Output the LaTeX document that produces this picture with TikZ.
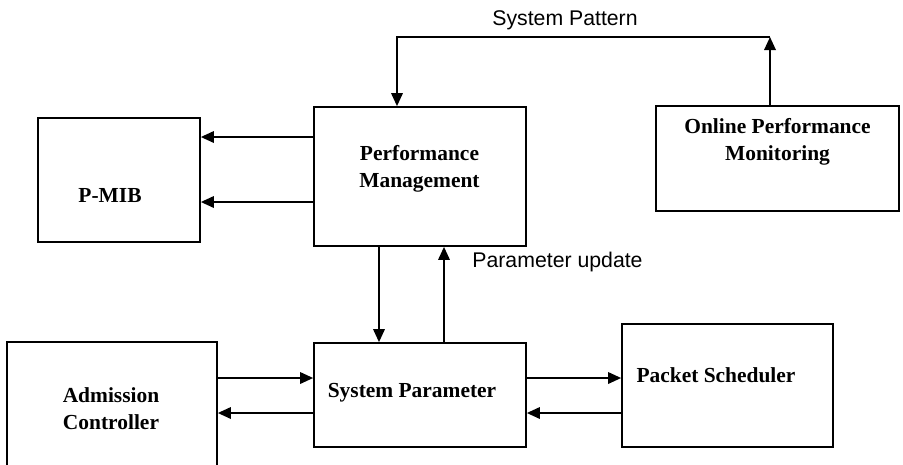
\documentclass[tikz,border=0pt]{standalone}
\usepackage{fontspec}
\setmainfont{Liberation Serif}
\newfontfamily\flowfont{Liberation Sans}
\usetikzlibrary{arrows.meta}

\begin{document}
\begin{tikzpicture}[x=0.02cm,y=-0.02cm,
  >={Triangle[length=0.26cm,width=0.23cm]},
  block/.style={draw,line width=1pt,inner sep=0pt},
  blocktext/.style={font=\fontsize{12.2}{15.2}\selectfont\bfseries,align=center},
  flowtext/.style={font=\flowfont\fontsize{12.1}{14}\selectfont}]
  \useasboundingbox (0,0) rectangle (903,464);

  % blocks
  \node[block,minimum width=3.24cm,minimum height=2.48cm] (pmib) at (119,180) {};
  \node[block,minimum width=4.24cm,minimum height=2.78cm] (pm) at (420,176.5) {};
  \node[block,minimum width=4.86cm,minimum height=2.1cm] (opm) at (777.5,158.5) {};
  \node[block,minimum width=4.2cm,minimum height=2.66cm] (ac) at (112,408.5) {};
  \node[block,minimum width=4.24cm,minimum height=2.08cm] (sp) at (420,395) {};
  \node[block,minimum width=4.22cm,minimum height=2.46cm] (ps) at (727.5,385.5) {};

  \node[blocktext] (pmibtxt) at (110,196) {P-MIB};
  \node[blocktext] (pmtxt) at (419.5,169) {Performance\\Management};
  \node[blocktext] (opmtxt) at (777.5,141.5) {Online Performance\\Monitoring};
  \node[blocktext] (actxt) at (111,408.5) {Admission\\Controller};
  \node[blocktext] (sptxt) at (412,393) {System Parameter};
  \node[blocktext] (pstxt) at (716,375) {Packet Scheduler};

  % connectors
  \draw[->,line width=1pt] (pm.west |- 0,137) -- (pmib.east |- 0,137);
  \draw[->,line width=1pt] (pm.west |- 0,202) -- (pmib.east |- 0,202);

  \coordinate (patcorner) at (770,37);
  \draw[->,line width=1pt] (opm.north -| patcorner) -- (patcorner);
  \draw[->,line width=1pt] (patcorner) -| (pm.north -| 397,0);
  \node[flowtext] (pattxt) at (565,20) {System Pattern};

  \draw[->,line width=1pt] (pm.south -| 379,0) -- (sp.north -| 379,0);
  \draw[->,line width=1pt] (sp.north -| 444,0) -- (pm.south -| 444,0);
  \node[flowtext] (updtxt) at (557.5,262) {Parameter update};

  \draw[->,line width=1pt] (ac.east |- 0,378) -- (sp.west |- 0,378);
  \draw[->,line width=1pt] (sp.west |- 0,413) -- (ac.east |- 0,413);
  \draw[->,line width=1pt] (sp.east |- 0,378) -- (ps.west |- 0,378);
  \draw[->,line width=1pt] (ps.west |- 0,413) -- (sp.east |- 0,413);
\end{tikzpicture}
\end{document}
